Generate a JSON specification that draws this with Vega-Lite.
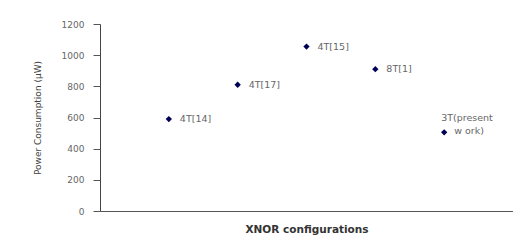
{
  "$schema": "https://vega.github.io/schema/vega-lite/v6.json",
  "width": 413,
  "height": 187,
  "autosize": {"type": "none"},
  "padding": {"left": 100, "top": 24, "right": 0, "bottom": 41},
  "background": "white",
  "config": {
    "view": {"stroke": null},
    "font": "DejaVu Sans"
  },
  "data": {
    "values": [
      {"config": "4T[14]", "power": 590, "label": "4T[14]"},
      {"config": "4T[17]", "power": 810, "label": "4T[17]"},
      {"config": "4T[15]", "power": 1055, "label": "4T[15]"},
      {"config": "8T[1]", "power": 910, "label": "8T[1]"},
      {"config": "3T(present work)", "power": 505, "label": "3T(present"}
    ]
  },
  "encoding": {
    "x": {
      "field": "config",
      "type": "nominal",
      "sort": null,
      "scale": {"type": "point", "padding": 1},
      "axis": {
        "title": "XNOR configurations",
        "labels": false,
        "ticks": false,
        "domainColor": "#555",
        "titleFontSize": 10.5,
        "titleFontWeight": "bold",
        "titleColor": "#333",
        "titlePadding": 13
      }
    },
    "y": {
      "field": "power",
      "type": "quantitative",
      "scale": {"domain": [0, 1200]},
      "axis": {
        "title": "Power Consumption (µW)",
        "values": [0, 200, 400, 600, 800, 1000, 1200],
        "format": "d",
        "grid": false,
        "domainColor": "#444",
        "tickColor": "#555",
        "tickSize": 7,
        "labelFontSize": 9,
        "labelColor": "#666",
        "labelPadding": 9,
        "titleFontSize": 9,
        "titleFontWeight": "normal",
        "titleColor": "#444",
        "titlePadding": 19
      }
    }
  },
  "layer": [
    {
      "mark": {"type": "point", "shape": "diamond", "filled": true, "color": "#000055", "size": 40, "opacity": 1}
    },
    {
      "transform": [{"filter": "datum.config != '3T(present work)'"}],
      "mark": {"type": "text", "align": "left", "baseline": "middle", "dx": 11, "fontSize": 9.5, "color": "#666"},
      "encoding": {"text": {"field": "label"}}
    },
    {
      "transform": [{"filter": "datum.config == '3T(present work)'"}],
      "mark": {"type": "text", "align": "left", "baseline": "middle", "dx": -3, "dy": -14, "fontSize": 9.5, "color": "#666"},
      "encoding": {"text": {"value": "3T(present"}}
    },
    {
      "transform": [{"filter": "datum.config == '3T(present work)'"}],
      "mark": {"type": "text", "align": "left", "baseline": "middle", "dx": 10, "dy": -1, "fontSize": 9.5, "color": "#666"},
      "encoding": {"text": {"value": "w ork)"}}
    }
  ]
}
